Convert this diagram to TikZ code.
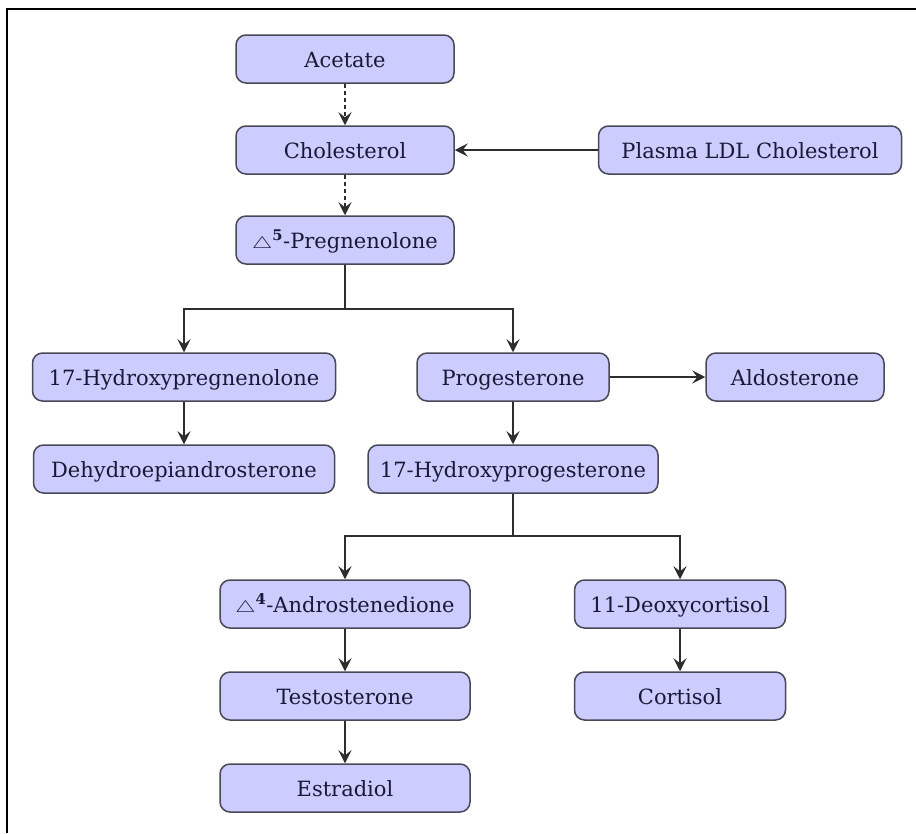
\documentclass[tikz,border=0pt]{standalone}
\usepackage{fontspec}
\setmainfont{DejaVu Serif}
\usetikzlibrary{arrows.meta}

\definecolor{boxfill}{RGB}{204,204,255}
\definecolor{boxline}{RGB}{72,72,88}
\definecolor{boxtext}{RGB}{25,25,55}
\definecolor{linkcol}{RGB}{45,45,45}

\newcommand{\dlt}[1]{\scalebox{1.1}[0.8]{$\triangle$}\textsuperscript{\textbf{#1}}}

\begin{document}
\begin{tikzpicture}[x=1pt,y=-1pt,
    stage/.style={draw=boxline,fill=boxfill,text=boxtext,line width=1.5pt,
        rounded corners=10pt,minimum height=48pt,inner sep=0pt,
        text height=20pt,text depth=4pt,
        font=\fontsize{21}{25}\selectfont},
    link/.style={draw=linkcol,line width=1.5pt,-{Stealth[length=13pt,width=13pt,inset=5pt]}},
    plain/.style={draw=linkcol,line width=1.5pt}]
    \useasboundingbox (0,0) rectangle (916,833);
    \draw[line width=2pt] (7,833) -- (7,9) -- (916,9);

    \node[stage,minimum width=218pt] (acetate) at (345,59) {Acetate};
    \node[stage,minimum width=218pt] (chol) at (345,150) {Cholesterol};
    \node[stage,minimum width=303pt] (ldl) at (750,150) {Plasma LDL Cholesterol};
    \node[stage,minimum width=218pt] (preg) at (345,240) {\dlt{5}-Pregnenolone};
    \node[stage,minimum width=303pt] (ohpreg) at (184,377) {17-Hydroxypregnenolone};
    \node[stage,minimum width=301pt] (dhea) at (184,469) {Dehydroepiandrosterone};
    \node[stage,minimum width=192pt] (prog) at (513,377) {Progesterone};
    \node[stage,minimum width=178pt] (aldo) at (795,377) {Aldosterone};
    \node[stage,minimum width=290pt] (ohprog) at (513,469) {17-Hydroxyprogesterone};
    \node[stage,minimum width=250pt] (andro) at (345,604) {\dlt{4}-Androstenedione};
    \node[stage,minimum width=211pt] (deoxy) at (680,604) {11-Deoxycortisol};
    \node[stage,minimum width=250pt] (testo) at (345,696) {Testosterone};
    \node[stage,minimum width=211pt] (cort) at (680,696) {Cortisol};
    \node[stage,minimum width=250pt] (estra) at (345,788) {Estradiol};

    \coordinate (fork1) at (345,309);
    \coordinate (fork2) at (513,536);

    \draw[link,dash pattern=on 4pt off 3pt] (acetate) to (chol);
    \draw[link,dash pattern=on 4pt off 3pt] (chol) to (preg);
    \draw[link] (ldl) to (chol);
    \draw[plain] (preg) -- (fork1);
    \draw[link] (fork1) -| (ohpreg);
    \draw[link] (fork1) -| (prog);
    \draw[link] (ohpreg) to (dhea);
    \draw[link] (prog) to (aldo);
    \draw[link] (prog) to (ohprog);
    \draw[plain] (ohprog) -- (fork2);
    \draw[link] (fork2) -| (andro);
    \draw[link] (fork2) -| (deoxy);
    \draw[link] (andro) to (testo);
    \draw[link] (testo) to (estra);
    \draw[link] (deoxy) to (cort);
\end{tikzpicture}
\end{document}
